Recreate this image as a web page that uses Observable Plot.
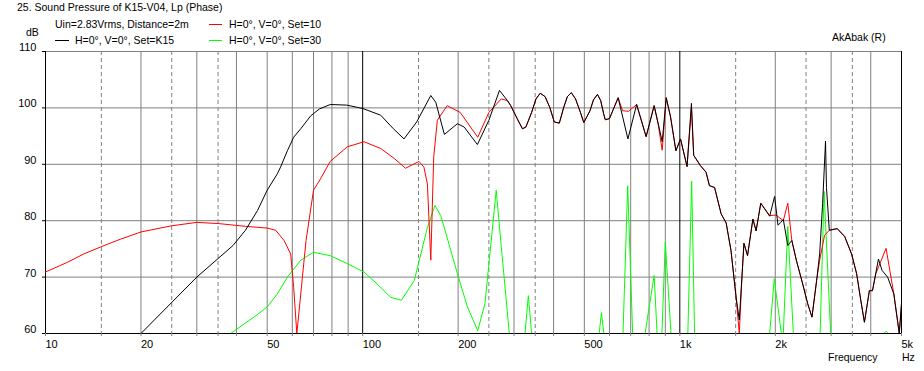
<!DOCTYPE html>
<html>
<head>
<meta charset="utf-8">
<script src="https://cdn.jsdelivr.net/npm/d3@7"></script>
<script src="https://cdn.jsdelivr.net/npm/@observablehq/plot@0.6"></script>
<style>
  html, body { margin: 0; padding: 0; background: #fff; }
  #wrap { position: relative; width: 924px; height: 371px; overflow: hidden; font-family: "Liberation Sans", Arial, sans-serif; font-size: 10.5px; color: #000; }
  #wrap svg { position: absolute; left: 0; top: 0; }
  .t { position: absolute; white-space: nowrap; line-height: 11px; font-size: 10.5px; }
  .sw { position: absolute; height: 1px; width: 13px; }
</style>
</head>
<body>
<div id="wrap">
  <div class="t" style="left:17px;top:2px">25. Sound Pressure of K15-V04, Lp (Phase)</div>
  <div class="t" style="left:55px;top:19px">Uin=2.83Vrms, Distance=2m</div>
  <div class="t" style="left:26px;top:27px">dB</div>
  <div class="sw" style="left:209px;top:24px;background:#ff0000"></div>
  <div class="t" style="left:229px;top:19px">H=0°, V=0°, Set=10</div>
  <div class="sw" style="left:55px;top:40px;width:14px;background:#000"></div>
  <div class="t" style="left:75px;top:35px">H=0°, V=0°, Set=K15</div>
  <div class="sw" style="left:209px;top:40px;background:#00ff00"></div>
  <div class="t" style="left:229px;top:35px">H=0°, V=0°, Set=30</div>
  <div class="t" style="left:832px;top:32px">AkAbak (R)</div>
  <div class="t" style="left:828px;top:352px">Frequency</div>
  <div class="t" style="left:902px;top:352px">Hz</div>
</div>
<script>
// ---- data (frequency in Hz, level in dB) ----
const blackF = [10, 20, 30, 39, 42.7, 46.6, 50, 53.8, 55.1, 57.9, 60.6, 63.8, 68.6, 73, 79, 89, 100, 114, 125, 135, 148, 164, 170, 181, 199, 209, 230, 250, 270, 286, 293, 307, 319, 327, 341, 352, 363, 376, 389, 402, 417, 430, 442, 455, 469, 486, 498, 521, 534, 550, 563, 575, 582, 600, 639, 686, 731, 783, 830, 855, 880, 906, 935, 972, 1005, 1054, 1088, 1106, 1160, 1210, 1240, 1287, 1350, 1400, 1450, 1505, 1540, 1570, 1593, 1635, 1700, 1740, 1800, 1920, 1990, 2040, 2080, 2120, 2190, 2255, 2330, 2440, 2530, 2610, 2700, 2760, 2820, 2880, 2900, 2960, 3135, 3310, 3480, 3610, 3720, 3820, 3960, 4050, 4230, 4340, 4520, 4730, 4920, 5000];
const blackDb = [60, 60, 70, 75.6, 78.3, 81.8, 85.4, 88.3, 89.5, 92.4, 94.8, 96.3, 98.6, 99.8, 100.6, 100.5, 99.9, 98.7, 96.3, 94.5, 97.5, 102.2, 101, 95.3, 97.2, 96.6, 93.5, 97.8, 103.1, 101.3, 100.4, 98.1, 96.3, 96.6, 99.2, 101.6, 102.6, 102, 100.1, 97.5, 97.3, 100, 102, 102.7, 101.6, 99.2, 97.4, 99.5, 101.4, 102.4, 101.3, 99, 97.9, 98.1, 101.8, 94.5, 100.6, 94.9, 100.4, 97.2, 94, 101.8, 98.4, 92.4, 94.5, 89.6, 100.8, 91.6, 89.8, 88.6, 86.2, 85.9, 81.2, 79.6, 74.7, 66.4, 62.4, 70, 76, 73.8, 80.3, 78.2, 83.1, 80.8, 84.3, 79.2, 79.7, 80.2, 75.6, 76.5, 73, 68.8, 65.3, 62.9, 69.4, 74.1, 83, 94.1, 85.9, 78.3, 78.6, 77.2, 74.1, 70.6, 65.9, 62, 67.6, 67.6, 73.2, 71.2, 70, 67, 60, 65.3];

const redF = [10, 11.7, 13.2, 15, 17.2, 20, 25, 30, 35, 42.7, 50, 53.2, 56.5, 59.3, 60.6, 62, 63.8, 66.3, 70, 73.6, 79, 89.4, 101, 114, 126, 136.5, 150.5, 156, 160, 164, 167.5, 172, 184.7, 203, 230.6, 250, 273.7, 286, 293, 307, 319, 327, 341, 352, 363, 376, 389, 402, 417, 430, 442, 455, 469, 486, 498, 521, 534, 550, 563, 575, 582, 600, 639, 660, 689, 731, 783, 830, 855, 880, 906, 935, 972, 1005, 1054, 1088, 1106, 1160, 1210, 1240, 1287, 1350, 1400, 1450, 1505, 1540, 1570, 1593, 1635, 1700, 1740, 1800, 1920, 2010, 2120, 2190, 2255, 2330, 2440, 2530, 2610, 2700, 2760, 2860, 2960, 3135, 3310, 3480, 3610, 3720, 3820, 3960, 4050, 4150, 4470, 4730, 4920, 5000];
const redDb = [70.9, 72.6, 74.1, 75.4, 76.7, 78, 79.1, 79.7, 79.5, 79, 78.7, 78.3, 76.5, 74.1, 68.2, 60, 67, 76.5, 85.4, 87.4, 90.5, 93.1, 94, 92.8, 91, 89.3, 90.5, 89.5, 86.5, 73, 91.3, 97.8, 100.4, 99.2, 94.8, 99.2, 101.6, 101.3, 100.4, 98.1, 96.3, 96.6, 99.2, 101.6, 102.6, 102, 100.1, 97.5, 97.3, 100, 102, 102.7, 101.6, 99.2, 97.4, 99.5, 101.4, 102.4, 101.3, 99, 97.9, 98.1, 101.8, 99.5, 99.4, 100.6, 94.9, 100.4, 97, 92.5, 101.8, 98.4, 92.4, 94.5, 89.6, 100, 91.6, 89.8, 88.6, 86.2, 85.9, 81.2, 79.6, 74.7, 66.4, 60, 70, 76, 73.8, 80.3, 78.2, 83.1, 80.9, 81, 80, 83.1, 76.5, 73, 68.8, 65.3, 62.9, 69.4, 73, 77.4, 78.3, 78.6, 77.2, 74.1, 70.6, 65.9, 62, 67.6, 67.6, 70.6, 75.1, 67, 60, 65.3];

const greenF = [10, 38.3, 45.4, 50, 53.8, 57.9, 63.8, 70, 79, 89.4, 101, 111, 122.6, 132.5, 145.5, 160, 169, 176.4, 199, 214, 230.6, 243, 263.7, 273.7, 290, 325, 333, 341, 557, 566, 576, 662, 685, 710, 777, 830, 848, 878, 900, 938, 1060, 1090, 1113, 1920, 1985, 2090, 2120, 2190, 2280, 2770, 2850, 2990, 4400, 4470, 4540, 5000];
const greenDb = [60, 60, 62.9, 64.7, 67, 70, 73, 74.4, 73.8, 72.4, 70.9, 68.8, 66.4, 65.9, 69.4, 78.8, 82.7, 80.9, 70.6, 64.7, 60.5, 65.3, 85.4, 75.3, 60, 60, 66.7, 60, 60, 63.7, 60, 60, 86.2, 60, 60, 70.3, 60, 60, 76.2, 60, 60, 87, 60, 60, 69.7, 60, 60, 79, 60, 60, 85.2, 60, 60, 60.4, 60, 60];

const solidGrid = [20, 30, 40, 50, 60, 70, 80, 90, 200, 300, 400, 500, 600, 700, 800, 900, 2000, 3000, 4000];
const dashedGrid = [15, 25, 35, 150, 250, 350, 1500, 2500, 3500];
const decadeLines = [100, 1000];
const xLabelTicks = [10, 20, 50, 100, 200, 500, 1000, 2000, 5000];
const xLabelText = ["10", "20", "50", "100", "200", "500", "1k", "2k", "5k"];
const yTicks = [60, 70, 80, 90, 100, 110];

const toRows = (fs, ds) => fs.map((f, i) => ({f, db: ds[i]}));
const black = toRows(blackF, blackDb);
const red = toRows(redF, redDb);
const green = toRows(greenF, greenDb);
const xLabels = xLabelTicks.map((f, i) => ({f, label: xLabelText[i]}));
const allGrid = [10, ...solidGrid, ...dashedGrid, ...decadeLines, 5000];

const chart = Plot.plot({
  width: 924,
  height: 371,
  marginLeft: 45,
  marginRight: 23,
  marginTop: 51,
  marginBottom: 38,
  style: {fontFamily: "'Liberation Sans', Arial, sans-serif", fontSize: "11px", background: "transparent", color: "#000", overflow: "visible"},
  x: {type: "log", domain: [10, 5000]},
  y: {domain: [60, 110]},
  marks: [
    Plot.ruleX(solidGrid, {stroke: "#808080", strokeOpacity: 1}),
    Plot.ruleX(dashedGrid, {stroke: "#808080", strokeDasharray: "4,3", strokeOpacity: 1}),
    Plot.ruleY(yTicks.filter(v => v > 60), {stroke: "#808080", strokeOpacity: 1}),
    Plot.ruleX(decadeLines, {stroke: "#000"}),
    Plot.ruleX([10, 5000], {stroke: "#000"}),
    Plot.ruleY([60], {stroke: "#000"}),
    Plot.axisX(allGrid, {tickSize: 3, tickFormat: () => "", stroke: "#808080", label: null}),
    Plot.text(xLabels, {x: "f", text: "label", frameAnchor: "bottom", lineAnchor: "top", textAnchor: "start", dx: 0, dy: 7, fill: "#000", fontSize: 11}),
    Plot.axisY(yTicks, {tickSize: 3, tickFormat: () => "", label: null}),
    Plot.axisY(yTicks, {tickSize: 0, tickPadding: 9, dy: -4, label: null}),
    Plot.line(green, {x: "f", y: "db", stroke: "#00ff00", strokeWidth: 1, clip: true}),
    Plot.line(red, {x: "f", y: "db", stroke: "#ff0000", strokeWidth: 1, clip: true}),
    Plot.line(black, {x: "f", y: "db", stroke: "#000000", strokeWidth: 1, clip: true})
  ]
});
document.getElementById("wrap").insertBefore(chart, document.getElementById("wrap").firstChild);
</script>
</body>
</html>
